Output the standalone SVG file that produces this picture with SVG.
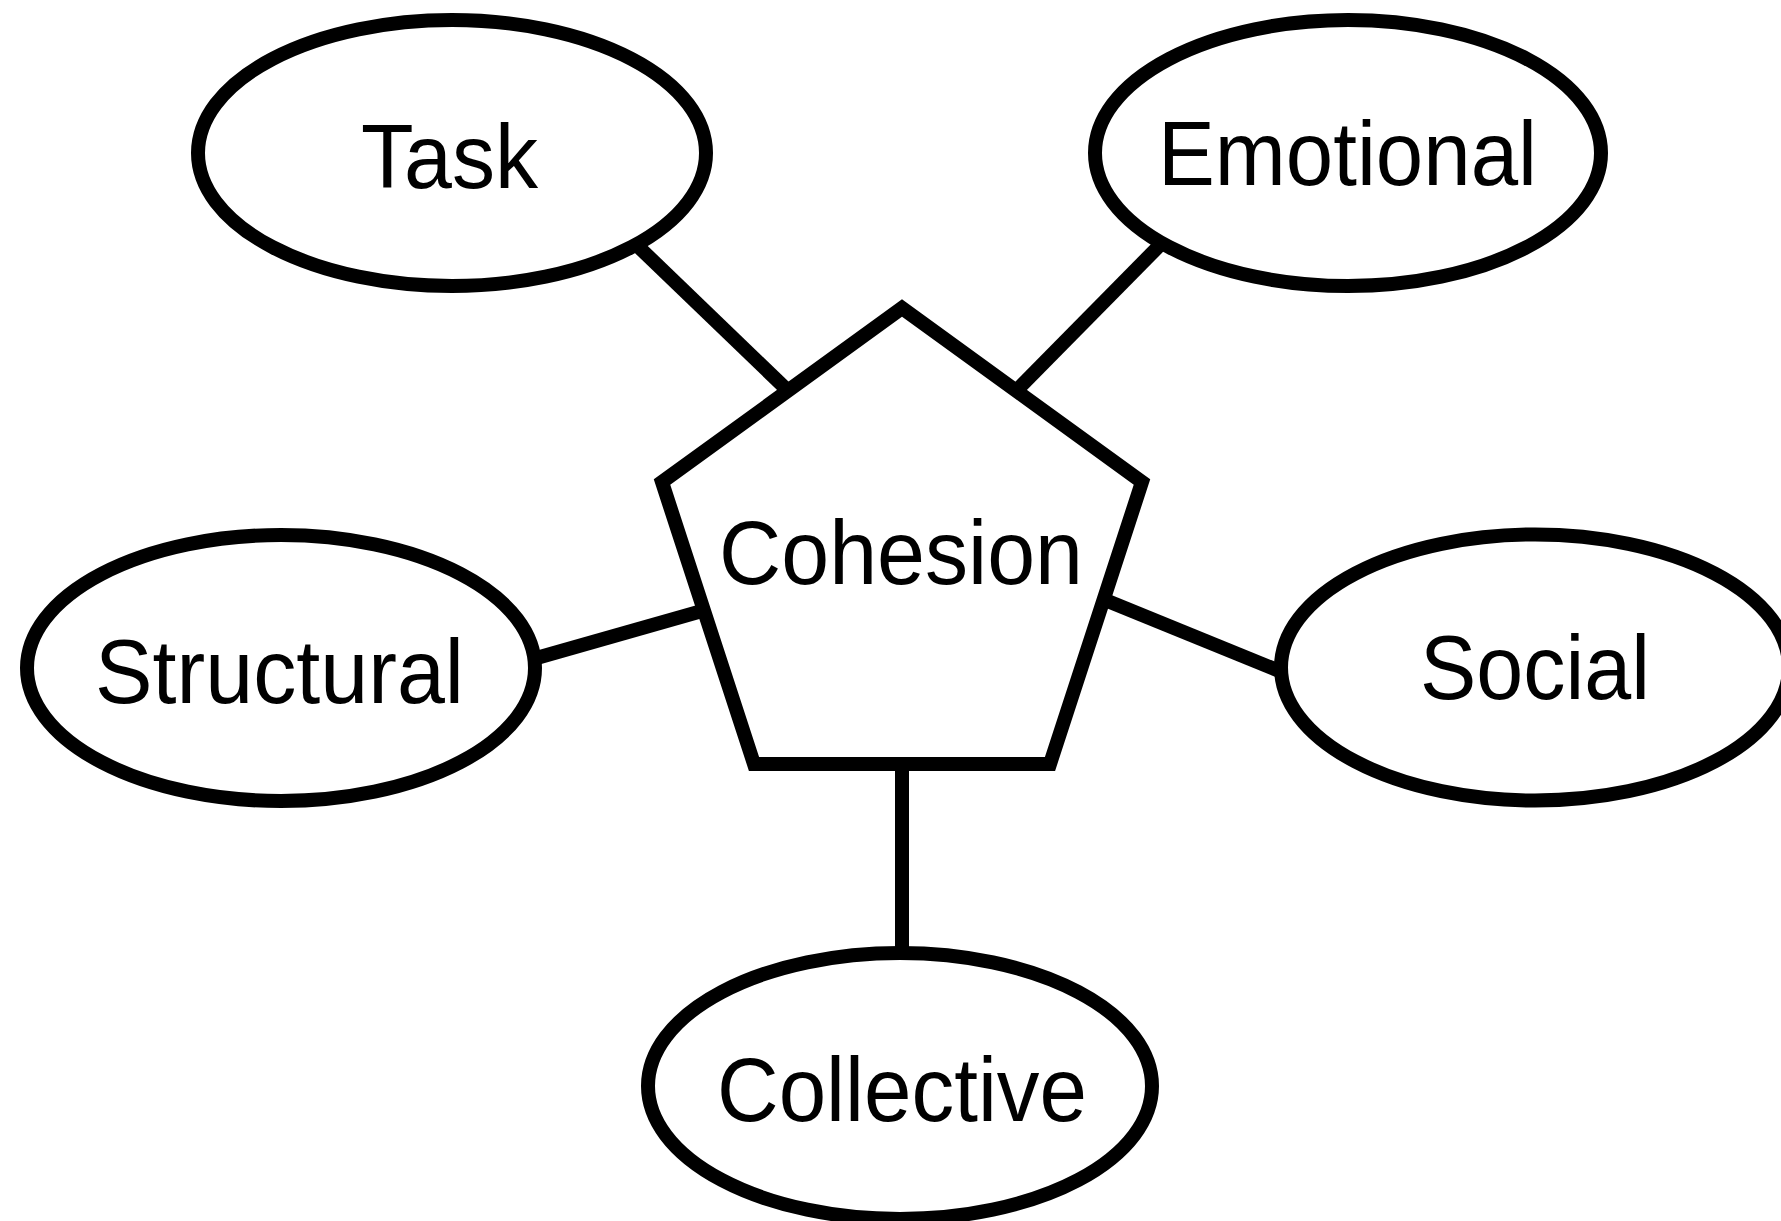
<svg xmlns="http://www.w3.org/2000/svg" width="1781" height="1221" viewBox="0 0 1781 1221">
  <style>
    .shape { fill: #ffffff; stroke: #000000; stroke-width: 14; stroke-miterlimit: 10; }
    .link { stroke: #000000; stroke-width: 14; fill: none; }
    .label { font-family: "Liberation Sans", Arial, sans-serif; font-weight: normal; font-size: 91px; fill: #000000; text-anchor: middle; }
  </style>
  <rect x="0" y="0" width="1781" height="1221" fill="#ffffff"/>

  <!-- spokes from the central pentagon to each facet -->
  <g id="connectors">
    <line class="link" x1="620" y1="229" x2="800" y2="402.3"/>
    <line class="link" x1="1180" y1="224.7" x2="1000" y2="407.3"/>
    <line class="link" x1="500" y1="668.4" x2="730" y2="602.9"/>
    <line class="link" x1="1080" y1="589.8" x2="1310" y2="683.4"/>
    <line class="link" x1="902" y1="760" x2="902" y2="960"/>
  </g>

  <g id="task">
    <ellipse class="shape" cx="452" cy="153" rx="254" ry="133"/>
    <text class="label" x="449.5" y="188" textLength="177" lengthAdjust="spacingAndGlyphs">Task</text>
  </g>

  <g id="emotional">
    <ellipse class="shape" cx="1348" cy="153" rx="253" ry="133"/>
    <text class="label" x="1347.5" y="185" textLength="379" lengthAdjust="spacingAndGlyphs">Emotional</text>
  </g>

  <g id="structural">
    <ellipse class="shape" cx="281" cy="668" rx="254" ry="133"/>
    <text class="label" x="279.5" y="703" textLength="369" lengthAdjust="spacingAndGlyphs">Structural</text>
  </g>

  <g id="social">
    <ellipse class="shape" cx="1535" cy="667.5" rx="254" ry="133"/>
    <text class="label" x="1535" y="699" textLength="230" lengthAdjust="spacingAndGlyphs">Social</text>
  </g>

  <g id="collective">
    <ellipse class="shape" cx="900" cy="1086" rx="252" ry="133"/>
    <text class="label" x="902" y="1121" textLength="370" lengthAdjust="spacingAndGlyphs">Collective</text>
  </g>

  <g id="cohesion">
    <polygon class="shape" points="902,308 1142,482 1050,764 754,764 662,482"/>
    <text class="label" x="901" y="584" textLength="364" lengthAdjust="spacingAndGlyphs">Cohesion</text>
  </g>
</svg>
